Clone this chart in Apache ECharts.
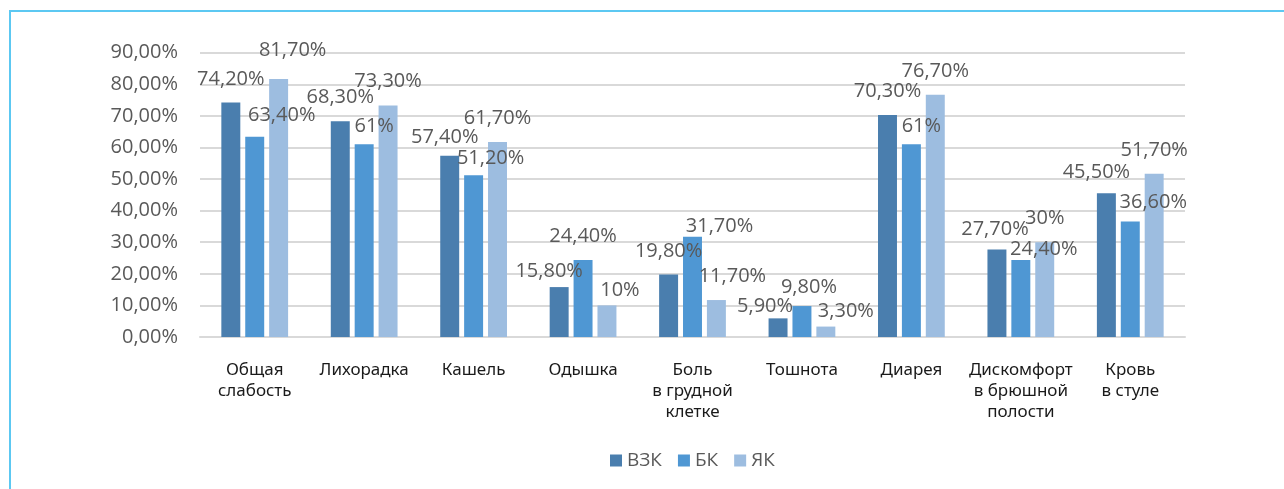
<!DOCTYPE html>
<html>
<head>
<meta charset="utf-8">
<script src="https://cdn.jsdelivr.net/npm/echarts@6/dist/echarts.min.js"></script>
<style>
html,body{margin:0;padding:0;background:#fff;}
#frame{position:absolute;left:9px;top:10px;width:1275px;height:479px;border-left:2px solid #5cc8f2;border-top:2px solid #5cc8f2;box-sizing:border-box;}
#chart{position:absolute;left:0;top:0;width:1284px;height:489px;}
</style>
</head>
<body>
<div id="frame"></div>
<div id="chart"></div>
<script>
const categories = ['Общая\nслабость','Лихорадка','Кашель','Одышка','Боль\nв грудной\nклетке','Тошнота','Диарея','Дискомфорт\nв брюшной\nполости','Кровь\nв стуле'];
const seriesNames = ['ВЗК','БК','ЯК'];
const vzk = [74.2, 68.3, 57.4, 15.8, 19.8, 5.9, 70.3, 27.7, 45.5];
const bk  = [63.4, 61, 51.2, 24.4, 31.7, 9.8, 61, 24.4, 36.6];
const yak = [81.7, 73.3, 61.7, 10, 11.7, 3.3, 76.7, 30, 51.7];
const yTicks = [0, 10, 20, 30, 40, 50, 60, 70, 80, 90];

// label nudges (style only, in px)
const labelNudge = [
  [[0,-8.5],[0,-8.5],[-5,-3.5],[-10,-0.5],[0,-8.5],[-13,2.5],[0,-8.5],[-2,-5.5],[-10,-5.5]],
  [[27,-6.5],[10,-3],[17,-1.5],[0,-8.5],[27,4.5],[7,-3.5],[10,-3.5],[23,4],[23,-4]],
  [[14,-13.5],[0,-9.5],[0,-8.5],[13,-0.5],[16,-8.5],[20,-0.5],[0,-8.5],[0,-8.5],[0,-8.5]]
];
const colors = ['#4a7eae','#4f97d3','#9dbde0'];

function fmt(v){
  if (Number.isInteger(v)) return v + '%';
  return v.toFixed(2).replace('.', ',') + '%';
}

const chart = echarts.init(document.getElementById('chart'), null, {renderer:'canvas'});
const allData = [vzk, bk, yak];
const series = allData.map((arr, si) => ({
  name: seriesNames[si],
  type: 'bar',
  barGap: '26%',
  barCategoryGap: '39%',
  itemStyle: {color: colors[si]},
  data: arr.map((v, i) => ({
    value: v,
    label: {offset: labelNudge[si][i]}
  })),
  label: {
    show: true,
    position: 'top',
    distance: 5,
    formatter: p => fmt(p.value),
    color: '#595959',
    fontFamily: 'Open Sans',
    fontSize: 20
  }
}));

chart.setOption({
  animation: false,
  backgroundColor: 'transparent',
  grid: {left: 200, right: 99, top: 52.7, bottom: 152, containLabel: false},
  legend: {
    data: seriesNames,
    bottom: 14,
    left: 605,
    itemWidth: 12,
    itemHeight: 12,
    itemGap: 16,
    icon: 'rect',
    textStyle: {color: '#595959', fontFamily: 'Open Sans', fontSize: 19}
  },
  xAxis: {
    type: 'category',
    data: categories,
    axisLine: {lineStyle: {color: '#d9d9d9', width: 2}},
    axisTick: {show: false},
    axisLabel: {
      interval: 0,
      margin: 23,
      color: '#1a1a1a',
      fontFamily: 'Noto Sans',
      fontSize: 17,
      lineHeight: 21
    }
  },
  yAxis: {
    type: 'value',
    min: yTicks[0],
    max: yTicks[yTicks.length - 1],
    interval: 10,
    axisLine: {show: false},
    axisTick: {show: false},
    splitLine: {lineStyle: {color: '#d9d9d9', width: 2}},
    axisLabel: {
      margin: 22,
      color: '#595959',
      fontFamily: 'Open Sans',
      fontSize: 20,
      formatter: v => v.toFixed(2).replace('.', ',') + '%'
    }
  },
  series: series
});
</script>
</body>
</html>
